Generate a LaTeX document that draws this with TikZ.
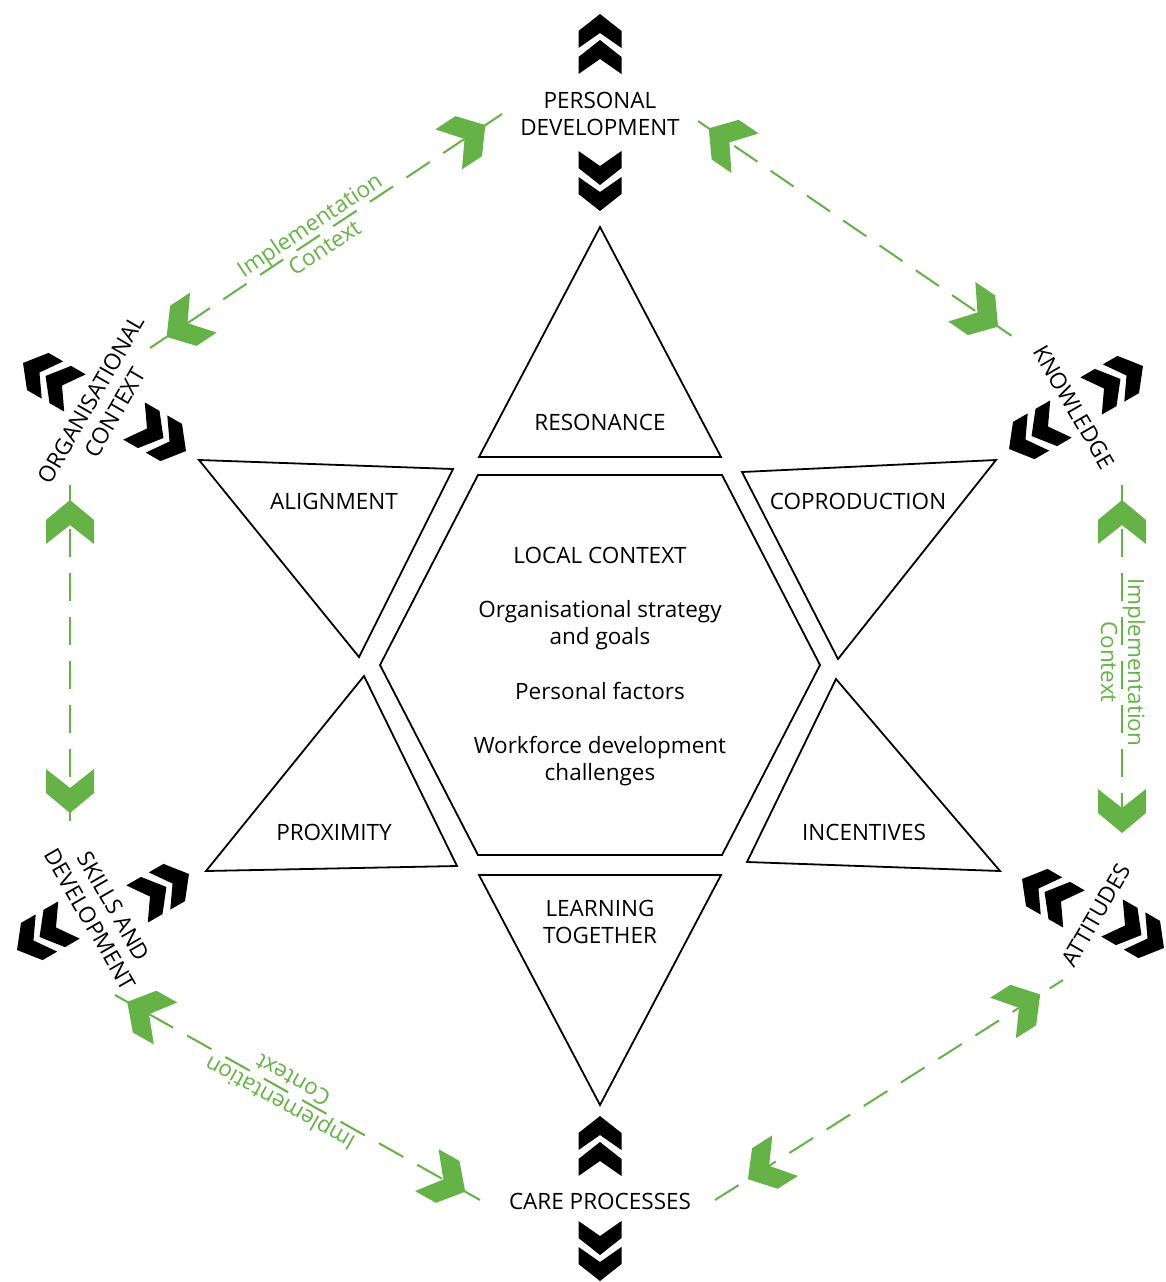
\documentclass[tikz,border=0pt]{standalone}
\usepackage{fontspec}
\setmainfont{Open Sans}
\usetikzlibrary{calc}
\definecolor{igreen}{RGB}{101,179,70}
\tikzset{
  % two stacked black chevrons pointing along +x, centred on the origin
  chevpair/.pic={
    \fill[black] (30,0)--(13,21.5)--(-4,21.5)--(11,0)--(-4,-21.5)--(13,-21.5)--cycle;
    \fill[black] (4,0)--(-13,21.5)--(-30,21.5)--(-15,0)--(-30,-21.5)--(-13,-21.5)--cycle;
  },
  % broad green arrow head, tip at the origin, pointing along +x
  ghead/.pic={
    \fill[igreen] (0,0)--(-20,24)--(-44,24)--(-25,0)--(-44,-24)--(-20,-24)--cycle;
  },
  lbl/.style={font=\fontsize{22.5}{27}\selectfont, inner sep=0pt, align=center},
  blbl/.style={font=\fontsize{22.5}{27}\selectfont, inner sep=0pt, anchor=base},
  gl/.style={font=\fontsize{22.5}{27}\selectfont, inner sep=0pt, text=igreen, align=center},
  starline/.style={draw=black, line width=1.8pt, line join=miter},
  glink/.style={draw=igreen, line width=2pt, dash pattern=on 28pt off 16pt},
}
\begin{document}
\begin{tikzpicture}[x=1pt,y=-1pt]
\useasboundingbox (0,0) rectangle (1165,1282);

% ---------- central star ----------
\draw[starline] (600,227) -- (721,457) -- (479,457) -- cycle;
\draw[starline] (199,460) -- (453,469) -- (359,657) -- cycle;
\draw[starline] (742,472) -- (996,460) -- (838,659) -- cycle;
\draw[starline] (364,676) -- (457,866) -- (206,871) -- cycle;
\draw[starline] (836,679) -- (1000,871) -- (747,862) -- cycle;
\draw[starline] (479,875) -- (721,875) -- (600,1105) -- cycle;
\draw[starline] (478,475) -- (722,475) -- (820,665) -- (722,855) -- (478,855) -- (380,665) -- cycle;

\node[blbl] (res) at (600,430) {RESONANCE};
\node[blbl] (ali) at (334,509) {ALIGNMENT};
\node[blbl] (cop) at (858,509) {COPRODUCTION};
\node[blbl] (pro) at (334,840) {PROXIMITY};
\node[blbl] (inc) at (864,840) {INCENTIVES};
\node[blbl] (lea1) at (600,916) {LEARNING};
\node[blbl] (lea2) at (600,943) {TOGETHER};

\node[blbl] (loc) at (600,563) {LOCAL CONTEXT};
\node[blbl] (org1) at (600,617) {Organisational strategy};
\node[blbl] (org2) at (600,644) {and goals};
\node[blbl] (pers) at (600,699) {Personal factors};
\node[blbl] (wf1) at (600,753) {Workforce development};
\node[blbl] (wf2) at (600,780) {challenges};

% ---------- outer labels ----------
\node[blbl] (pd1) at (600,108) {PERSONAL};
\node[blbl] (pd2) at (600,135) {DEVELOPMENT};
\node[blbl] (care) at (600,1209) {CARE PROCESSES};
\node[lbl, rotate=60] (oc) at (103,406) {ORGANISATIONAL\\CONTEXT};
\node[lbl, rotate=-60] (kn) at (1074,407) {KNOWLEDGE};
\node[lbl, rotate=-60] (sk) at (102,913) {SKILLS AND\\DEVELOPMENT};
\node[lbl, rotate=60] (at) at (1096,915) {ATTITUDES};

% ---------- black chevrons ----------
\path (600,44) pic[rotate=90] {chevpair};
\path (600,181) pic[rotate=-90] {chevpair};
\path (600,1146) pic[rotate=90] {chevpair};
\path (600,1251) pic[rotate=-90] {chevpair};
\path (49,378) pic[rotate=150] {chevpair};
\path (160,436) pic[rotate=-30] {chevpair};
\path (1117,381) pic[rotate=30] {chevpair};
\path (1035,434) pic[rotate=210] {chevpair};
\path (43,935) pic[rotate=210] {chevpair};
\path (163,889) pic[rotate=30] {chevpair};
\path (1138,933) pic[rotate=-30] {chevpair};
\path (1048,894) pic[rotate=150] {chevpair};

% ---------- green dashed links ----------
\coordinate (e1a) at (150,348);  \coordinate (e1b) at (502,114);
\coordinate (e2a) at (698,121);  \coordinate (e2b) at (1022,343);
\coordinate (e3a) at (1122,485); \coordinate (e3b) at (1122,835);
\coordinate (e4a) at (715,1200); \coordinate (e4b) at (1063,980);
\coordinate (e5a) at (480,1200); \coordinate (e5b) at (115,995);
\coordinate (e6a) at (70,485);   \coordinate (e6b) at (70,830);

\draw[glink] (e1a) -- (e1b);
\draw[glink] (e2a) -- (e2b);
\draw[glink] (e3a) -- (e3b);
\draw[glink] (e4a) -- (e4b);
\draw[glink] (e5a) -- (e5b);
\draw[glink] (e6a) -- (e6b);

\path ($(e1b)!20pt!(e1a)$) pic[rotate=33.6] {ghead};
\path ($(e1a)!20pt!(e1b)$) pic[rotate=213.6] {ghead};
\path ($(e2a)!13pt!(e2b)$) pic[rotate=145.6] {ghead};
\path ($(e2b)!29pt!(e2a)$) pic[rotate=-34.4] {ghead};
\path (1122,500) pic[rotate=90] {ghead};
\path (1122,833) pic[rotate=-90] {ghead};
\path ($(e4b)!27pt!(e4a)$) pic[rotate=32.3] {ghead};
\path ($(e4a)!39pt!(e4b)$) pic[rotate=212.3] {ghead};
\path ($(e5b)!14pt!(e5a)$) pic[rotate=150.7] {ghead};
\path ($(e5a)!17pt!(e5b)$) pic[rotate=-29.3] {ghead};
\path (70,500) pic[rotate=90] {ghead};
\path (70,813) pic[rotate=-90] {ghead};

% ---------- link captions (the dashed line runs between the two words) ----------
\coordinate (m1) at ($(e1a)!0.475!(e1b)$);
\node[gl, rotate=33.6] (cap1) at ($(m1)!1pt!90:(e1b)$) {Implementation\\Context};
\coordinate (m3) at ($(e3a)!0.506!(e3b)$);
\node[gl, rotate=-90] (cap3) at ($(m3)!1pt!90:(e3b)$) {Implementation\\Context};
\coordinate (m5) at ($(e5a)!0.53!(e5b)$);
\node[gl, rotate=150.7] (cap5) at ($(m5)!1pt!90:(e5b)$) {Implementation\\Context};
\end{tikzpicture}
\end{document}
